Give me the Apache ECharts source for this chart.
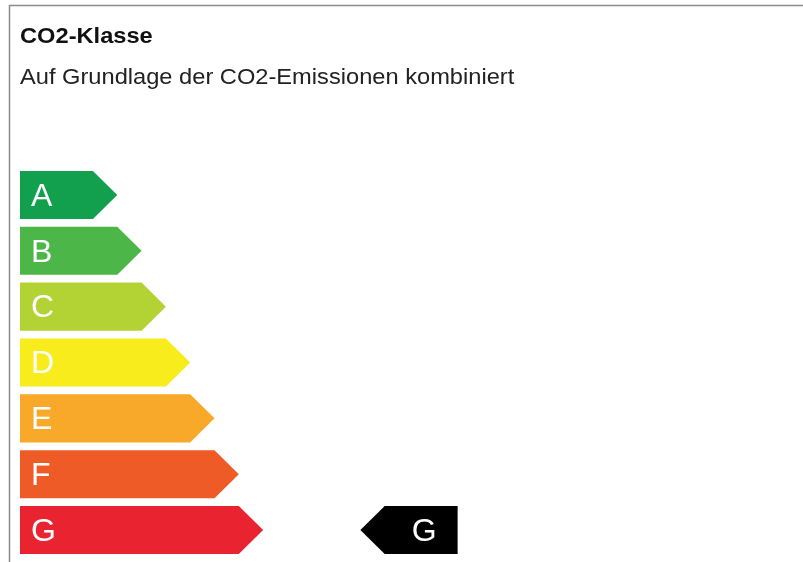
<!DOCTYPE html>
<html>
<head>
<meta charset="utf-8">
<script src="https://cdn.jsdelivr.net/npm/echarts@6/dist/echarts.min.js"></script>
<style>html,body{margin:0;padding:0;background:#fff}#c{width:803px;height:562px}</style>
</head>
<body>
<div id="c"></div>
<script>
const titleText = 'CO2-Klasse';
const subtitleText = 'Auf Grundlage der CO2-Emissionen kombiniert';
const classes = ['A', 'B', 'C', 'D', 'E', 'F', 'G'];
const barLengths = [4, 5, 6, 7, 8, 9, 10];
const classColors = ['#12a04f', '#4cb748', '#b3d234', '#f8ec1d', '#f8a92a', '#ef5b27', '#ea2330'];
const ratedClass = 'G';
const markerRange = [14, 18];

const FONT = '"Liberation Sans", Arial, Helvetica, sans-serif';
const SX = 1.1;
const chart = echarts.init(document.getElementById('c'), null, { renderer: 'canvas' });

const barData = classes.map((c, i) => ({ value: [barLengths[i], i], itemStyle: { color: classColors[i] } }));
const markerData = [[markerRange[0], markerRange[1], classes.indexOf(ratedClass)]];

chart.setOption({
  backgroundColor: '#fff',
  animation: false,
  graphic: [
    { type: 'rect', silent: true, z: -1,
      shape: { x: 9.5, y: 5.5, width: 900, height: 700 },
      style: { fill: 'none', stroke: '#8c8c8c', lineWidth: 1.5 } },
    { type: 'text', silent: true, x: 20, y: 37, scaleX: SX,
      style: { text: titleText, x: 0, y: 0, textVerticalAlign: 'middle',
               fill: '#111', font: 'bold 21.5px ' + FONT } },
    { type: 'text', silent: true, x: 20, y: 78, scaleX: SX,
      style: { text: subtitleText, x: 0, y: 0, textVerticalAlign: 'middle',
               fill: '#222', font: 'normal 21.5px ' + FONT } }
  ],
  grid: { left: 20, top: 167, width: 778, height: 391 },
  xAxis: { type: 'value', min: 0, max: 32, show: false },
  yAxis: { type: 'category', data: classes, inverse: true, show: false },
  series: [
    {
      type: 'custom',
      data: barData,
      renderItem: function (params, api) {
        const len = api.value(0), cat = api.value(1);
        const p0 = api.coord([0, cat]);
        const p1 = api.coord([len - 1, cat]);
        const p2 = api.coord([len, cat]);
        const h = api.size([0, 1])[1] * 0.86;
        const top = p0[1] - h / 2, bot = p0[1] + h / 2;
        return {
          type: 'group',
          children: [
            { type: 'polygon',
              shape: { points: [[p0[0], top], [p1[0], top], [p2[0], p0[1]], [p1[0], bot], [p0[0], bot]] },
              style: { fill: api.visual('color') } },
            { type: 'text', x: p0[0] + 11, y: p0[1] + 2,
              style: { text: classes[cat], x: 0, y: 0, textVerticalAlign: 'middle',
                       fill: '#fff', font: 'normal 32px ' + FONT } }
          ]
        };
      }
    },
    {
      type: 'custom',
      data: markerData,
      renderItem: function (params, api) {
        const s = api.value(0), e = api.value(1), cat = api.value(2);
        const pt = api.coord([s, cat]);
        const pr = api.coord([s + 1, cat]);
        const pe = api.coord([e, cat]);
        const h = api.size([0, 1])[1] * 0.86;
        const top = pt[1] - h / 2, bot = pt[1] + h / 2;
        return {
          type: 'group',
          children: [
            { type: 'polygon',
              shape: { points: [[pt[0], pt[1]], [pr[0], top], [pe[0], top], [pe[0], bot], [pr[0], bot]] },
              style: { fill: '#000' } },
            { type: 'text', x: (pr[0] + pe[0]) / 2 + 3, y: pt[1] + 2,
              style: { text: classes[cat], x: 0, y: 0,
                       textAlign: 'center', textVerticalAlign: 'middle',
                       fill: '#fff', font: 'normal 32px ' + FONT } }
          ]
        };
      }
    }
  ]
});
</script>
</body>
</html>
